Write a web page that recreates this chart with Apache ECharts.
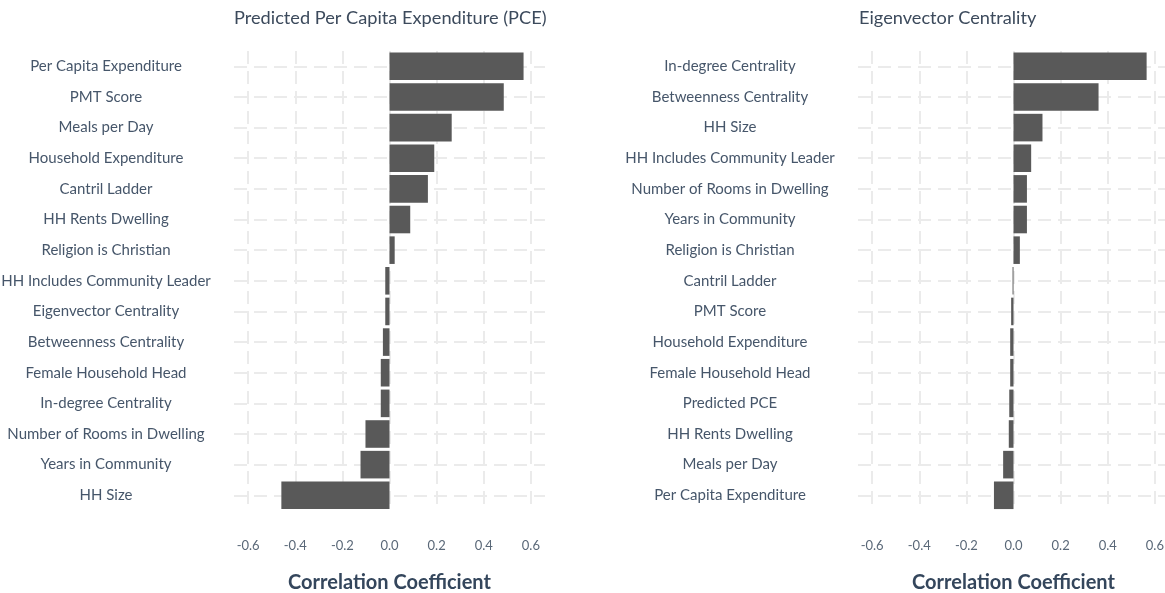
<!DOCTYPE html>
<html>
<head>
<meta charset="utf-8">
<script src="https://cdn.jsdelivr.net/npm/echarts@6/dist/echarts.min.js"></script>
<style>
  html, body { margin: 0; padding: 0; background: #fff; }
  #chart { width: 1165px; height: 593px; }
</style>
</head>
<body>
<div id="chart"></div>
<script>
// left panel: correlations with predicted PCE (top to bottom)
var pceCategories = ['Per Capita Expenditure', 'PMT Score', 'Meals per Day', 'Household Expenditure',
  'Cantril Ladder', 'HH Rents Dwelling', 'Religion is Christian', 'HH Includes Community Leader',
  'Eigenvector Centrality', 'Betweenness Centrality', 'Female Household Head', 'In-degree Centrality',
  'Number of Rooms in Dwelling', 'Years in Community', 'HH Size'];
var pceValues = [0.569, 0.485, 0.264, 0.19, 0.163, 0.088, 0.022, -0.018,
  -0.018, -0.028, -0.037, -0.037, -0.102, -0.123, -0.459];

// right panel: correlations with eigenvector centrality
var eigCategories = ['In-degree Centrality', 'Betweenness Centrality', 'HH Size', 'HH Includes Community Leader',
  'Number of Rooms in Dwelling', 'Years in Community', 'Religion is Christian', 'Cantril Ladder',
  'PMT Score', 'Household Expenditure', 'Female Household Head', 'Predicted PCE',
  'HH Rents Dwelling', 'Meals per Day', 'Per Capita Expenditure'];
var eigValues = [0.565, 0.361, 0.123, 0.075, 0.057, 0.057, 0.027, -0.004,
  -0.01, -0.014, -0.014, -0.018, -0.02, -0.044, -0.083];

var xTicks = [-0.6, -0.4, -0.2, 0.0, 0.2, 0.4, 0.6];
var rowTicks = pceCategories.map(function(d, i){ return i; });

var fontName = 'Lato';
var gridColor = '#ebebeb';
var dash = [13, 7];

function makeX(idx) {
  return {
    type: 'value', gridIndex: idx, min: -0.66, max: 0.66,
    axisLine: { show: false },
    axisTick: { show: false, customValues: xTicks },
    splitLine: { show: true, lineStyle: { color: gridColor, width: 2, type: dash } },
    axisLabel: {
      customValues: xTicks, margin: 29, fontFamily: fontName, fontSize: 13, color: '#5a6878',
      formatter: function(v){ return v.toFixed(1); }
    },
    name: 'Correlation Coefficient', nameLocation: 'middle', nameGap: 62,
    nameTextStyle: { fontFamily: fontName, fontSize: 20, fontWeight: 'bold', color: '#34465c' }
  };
}

function makeY(idx, cats) {
  return {
    type: 'category', gridIndex: idx, data: cats, inverse: true,
    axisLine: { show: false }, axisTick: { show: false }, splitLine: { show: false },
    axisLabel: { align: 'center', margin: 128, fontFamily: fontName, fontSize: 15, color: '#46566a' }
  };
}

function makeRows(idx) {
  return {
    type: 'value', gridIndex: idx, min: -0.5, max: 14.5, position: 'right',
    axisLine: { show: false }, axisLabel: { show: false },
    axisTick: { show: false, customValues: rowTicks },
    splitLine: { show: true, lineStyle: { color: gridColor, width: 2, type: dash } }
  };
}

var chart = echarts.init(document.getElementById('chart'));
var option = {
  backgroundColor: '#fff',
  animation: false,
  title: [
    { text: 'Predicted Per Capita Expenditure (PCE)', left: 234, top: 9, padding: 0,
      textStyle: { fontFamily: fontName, fontSize: 18.2, fontWeight: 'normal', color: '#3c4a5c' } },
    { text: 'Eigenvector Centrality', left: 859, top: 9, padding: 0,
      textStyle: { fontFamily: fontName, fontSize: 18.2, fontWeight: 'normal', color: '#3c4a5c' } }
  ],
  grid: [
    { left: 234, width: 311, top: 51, height: 459.6, outerBoundsMode: 'none' },
    { left: 858, width: 311, top: 51, height: 459.6, outerBoundsMode: 'none' }
  ],
  xAxis: [makeX(0), makeX(1)],
  yAxis: [makeY(0, pceCategories), makeY(1, eigCategories), makeRows(0), makeRows(1)],
  series: [
    { type: 'bar', xAxisIndex: 0, yAxisIndex: 0, data: pceValues, barCategoryGap: '10%',
      itemStyle: { color: '#595959' } },
    { type: 'bar', xAxisIndex: 1, yAxisIndex: 1, data: eigValues, barCategoryGap: '10%',
      itemStyle: { color: '#595959' } }
  ]
};
chart.setOption(option);
</script>
</body>
</html>
